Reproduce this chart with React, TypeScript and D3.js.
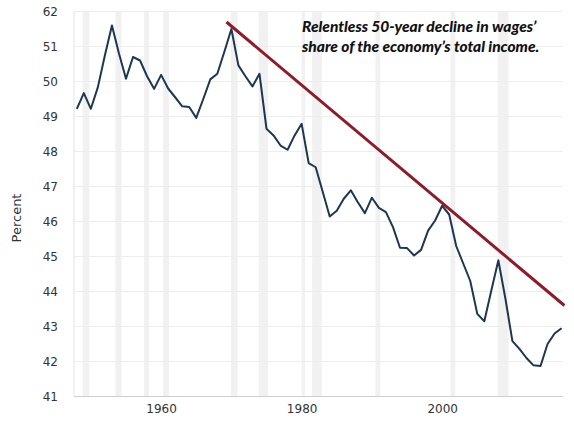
import { useEffect, useRef } from 'react'
import * as d3 from 'd3'

const W = 574
const H = 426
const M = { top: 11.5, right: 11, bottom: 29.5, left: 74 }

// wages as share of total income, annual
const years = d3.range(1948, 2018)
const share = [
  49.22, 49.67, 49.22, 49.84, 50.75, 51.6, 50.8, 50.08, 50.7, 50.6,
  50.15, 49.79, 50.19, 49.8, 49.55, 49.29, 49.27, 48.96, 49.5, 50.06,
  50.22, 50.85, 51.5, 50.46, 50.15, 49.86, 50.22, 48.65, 48.46, 48.17,
  48.05, 48.46, 48.79, 47.67, 47.55, 46.85, 46.14, 46.31, 46.65, 46.89,
  46.55, 46.24, 46.68, 46.39, 46.27, 45.84, 45.25, 45.24, 45.03, 45.19,
  45.74, 46.03, 46.45, 46.2, 45.3, 44.8, 44.3, 43.36, 43.15, 44.03,
  44.89, 43.8, 42.58, 42.36, 42.1, 41.89, 41.87, 42.5, 42.8, 42.95,
]

// recession periods (fractional years)
const recStart = [1948.83, 1953.5, 1957.58, 1960.29, 1969.92, 1973.87, 1980.0, 1981.5, 1990.5, 2001.2, 2007.92]
const recEnd   = [1949.79, 1954.37, 1958.29, 1961.12, 1970.87, 1975.2, 1980.5, 1982.87, 1991.2, 2001.87, 2009.45]

const trendYears  = [1969.3, 2017.4]
const trendValues = [51.7, 43.6]

const yTicks = [41, 42, 43, 44, 45, 46, 47, 48, 49, 50, 51, 52]
const yTickLabels = ['41', '42', '43', '44', '45', '46', '47', '48', '49', '50', '51', '62']
const xTicks = [1960, 1980, 2000]

const note = [
  'Relentless 50-year decline in wages\u2019',
  'share of the economy\u2019s total income.',
]

export default function App() {
  const svgRef = useRef<SVGSVGElement>(null)

  useEffect(() => {
    if (!svgRef.current) return
    const svg = d3.select(svgRef.current)
    svg.selectAll('*').remove()

    const iw = W - M.left - M.right
    const ih = H - M.top - M.bottom

    const x = d3.scaleLinear().domain([1947.6, 2017.2]).range([0, iw])
    const y = d3.scaleLinear().domain([41, 52]).range([ih, 0])

    svg.append('rect').attr('width', W).attr('height', H).attr('fill', '#fff')

    const g = svg.append('g').attr('transform', `translate(${M.left},${M.top})`)

    // recession shading
    g.selectAll('.rec').data(recStart).join('rect')
      .attr('x', d => x(d))
      .attr('width', (d, i) => Math.max(1.5, x(recEnd[i]) - x(d)))
      .attr('y', 0).attr('height', ih)
      .attr('fill', '#f1f1f1')

    // horizontal grid
    g.selectAll('.gy').data(yTicks).join('line')
      .attr('x1', 0).attr('x2', iw)
      .attr('y1', d => y(d)).attr('y2', d => y(d))
      .attr('stroke', '#eeeeee').attr('stroke-width', 1)

    // frame: left + bottom
    g.append('line').attr('x1', 0).attr('x2', 0).attr('y1', 0).attr('y2', ih)
      .attr('stroke', '#e4e4e4')
    g.append('line').attr('x1', 0).attr('x2', iw).attr('y1', ih).attr('y2', ih)
      .attr('stroke', '#cfcfcf')

    // y axis labels
    const yAxis = d3.axisLeft(y).tickValues(yTicks)
      .tickFormat((_, i) => yTickLabels[i]).tickSize(0).tickPadding(16)
    g.append('g').call(yAxis).call(ax => {
      ax.select('.domain').remove()
      ax.selectAll('text').attr('fill', '#333').attr('font-size', 12)
        .attr('font-family', 'DejaVu Sans, sans-serif')
    })

    // x axis labels
    const xAxis = d3.axisBottom(x).tickValues(xTicks).tickFormat(d3.format('d'))
      .tickSize(0).tickPadding(8)
    g.append('g').attr('transform', `translate(0,${ih})`).call(xAxis).call(ax => {
      ax.select('.domain').remove()
      ax.selectAll('text').attr('fill', '#333').attr('font-size', 12)
        .attr('font-family', 'DejaVu Sans, sans-serif')
    })

    // axis title
    svg.append('text')
      .attr('transform', `translate(21,218) rotate(-90)`)
      .attr('text-anchor', 'middle').attr('fill', '#333')
      .attr('font-size', 13).attr('font-family', 'DejaVu Sans, sans-serif')
      .text('Percent')

    // the series
    const line = d3.line<number>()
      .x((_, i) => x(years[i]))
      .y(d => y(d))
    g.append('path').datum(share)
      .attr('d', line)
      .attr('fill', 'none')
      .attr('stroke', '#1d3752')
      .attr('stroke-width', 2)
      .attr('stroke-linejoin', 'round')

    // trend line
    const trend = d3.line<number>()
      .x((_, i) => x(trendYears[i]))
      .y(d => y(d))
    g.append('path').datum(trendValues)
      .attr('d', trend)
      .attr('fill', 'none')
      .attr('stroke', '#8e1b2a')
      .attr('stroke-width', 3)

    // annotation
    svg.append('g').selectAll('text').data(note).join('text')
      .attr('x', 302).attr('y', (_, i) => 32 + i * 20)
      .attr('fill', '#111')
      .attr('font-family', 'Lato, sans-serif')
      .attr('font-style', 'italic').attr('font-weight', 900)
      .attr('font-size', 15.5)
      .text(d => d)
  }, [])

  return (
    <div style={{ position: 'absolute', left: 0, top: 0 }}>
      <svg ref={svgRef} width={W} height={H} style={{ display: 'block' }} />
    </div>
  )
}
